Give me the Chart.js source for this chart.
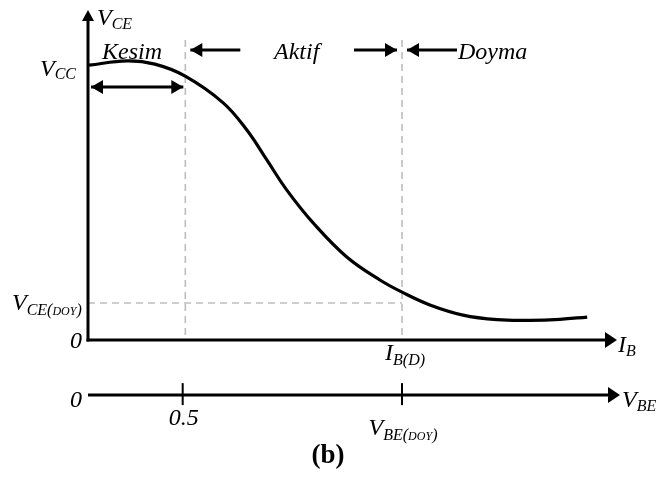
<!DOCTYPE html>
<html><head><meta charset="utf-8">
<script src="https://cdn.jsdelivr.net/npm/chart.js@4"></script>
<style>html,body{margin:0;padding:0;background:#fff}canvas{display:block}</style>
</head><body>
<canvas id="c" width="656" height="480"></canvas>
<script>
// ---- data (schematic units: I_B axis 0..10, V_CE axis 0..10) ----
const ibValues  = [0.02, 0.74, 1.27, 1.84, 2.57, 3.02, 3.40, 3.78, 4.28, 4.92, 5.55, 5.97, 6.50, 7.13, 7.78, 8.40, 8.97, 9.49];
const vceValues = [8.38, 8.51, 8.41, 8.05, 7.23, 6.40, 5.49, 4.57, 3.57, 2.53, 1.83, 1.46, 1.07, 0.76, 0.62, 0.60, 0.63, 0.70];
const regionLabels = ['Kesim', 'Aktif', 'Doyma'];
const boundaryValues = [1.85, 5.97];        // cut-off / saturation borders on I_B axis
const vbeTickValues = [1.80, 5.97];
const vbeTickLabels = [['0.5', ''], ['V', 'BE(DOY)']];
const ibTickLabel = ['I', 'B(D)'];
const yVcc = 8.38, yVceSat = 1.13;
const xMax = 10, yMax = 10;
const vbeAxisValue = -1.68;   // second (V_BE) axis level, below I_B axis

const SERIF = '"Liberation Serif", "DejaVu Serif", serif';

function drawParts(ctx, parts, x, y, align) {
  let w = 0;
  parts.forEach(p => { ctx.font = 'italic ' + p[1] + 'px ' + SERIF; w += ctx.measureText(p[0]).width; });
  let cx = align === 'center' ? x - w / 2 : (align === 'right' ? x - w : x);
  ctx.textAlign = 'left'; ctx.textBaseline = 'alphabetic'; ctx.fillStyle = '#000';
  parts.forEach(p => {
    ctx.font = 'italic ' + p[1] + 'px ' + SERIF;
    ctx.fillText(p[0], cx, y + p[2]);
    cx += ctx.measureText(p[0]).width;
  });
}
function subParts(main, sub) {
  const out = [[main, 24, 0]];
  const m = sub.match(/^(.*\()(DOY)(\))$/);
  if (m) { out.push([m[1], 16, 5], [m[2], 12, 5], [m[3], 16, 5]); }
  else if (sub) out.push([sub, 16, 5]);
  return out;
}
function arrowHead(ctx, x, y, dir, len, half) {
  ctx.beginPath();
  if (dir === 'right') { ctx.moveTo(x, y); ctx.lineTo(x - len, y - half); ctx.lineTo(x - len, y + half); }
  if (dir === 'left')  { ctx.moveTo(x, y); ctx.lineTo(x + len, y - half); ctx.lineTo(x + len, y + half); }
  if (dir === 'up')    { ctx.moveTo(x, y); ctx.lineTo(x - half, y + len); ctx.lineTo(x + half, y + len); }
  ctx.closePath(); ctx.fill();
}
function hArrow(ctx, x1, x2, y, headAt) {
  ctx.beginPath(); ctx.moveTo(x1, y); ctx.lineTo(x2, y); ctx.stroke();
  if (headAt === 'left' || headAt === 'both') arrowHead(ctx, Math.min(x1, x2), y, 'left', 12, 7);
  if (headAt === 'right' || headAt === 'both') arrowHead(ctx, Math.max(x1, x2), y, 'right', 12, 7);
}

const diagram = {
  id: 'diagram',
  beforeDatasetsDraw(chart) {
    const ctx = chart.ctx, xs = chart.scales.x, ys = chart.scales.y;
    ctx.save();
    ctx.strokeStyle = '#bdbdbd'; ctx.lineWidth = 1.6; ctx.setLineDash([7, 5]);
    boundaryValues.forEach(v => {
      const px = xs.getPixelForValue(v);
      ctx.beginPath(); ctx.moveTo(px, ys.getPixelForValue(9.15)); ctx.lineTo(px, ys.getPixelForValue(0)); ctx.stroke();
    });
    const py = ys.getPixelForValue(yVceSat);
    ctx.beginPath(); ctx.moveTo(xs.getPixelForValue(0), py); ctx.lineTo(xs.getPixelForValue(boundaryValues[1]), py); ctx.stroke();
    ctx.restore();
  },
  afterDatasetsDraw(chart) {
    const ctx = chart.ctx, xs = chart.scales.x, ys = chart.scales.y;
    const x0 = xs.getPixelForValue(0), y0 = ys.getPixelForValue(0);
    const xEnd = xs.getPixelForValue(xMax), yTop = ys.getPixelForValue(yMax);
    const yV = ys.getPixelForValue(vbeAxisValue);
    ctx.save();
    ctx.strokeStyle = '#000'; ctx.fillStyle = '#000'; ctx.lineWidth = 3; ctx.lineCap = 'butt';
    ctx.beginPath(); ctx.moveTo(x0, y0 + 1.5); ctx.lineTo(x0, yTop + 8); ctx.stroke();
    arrowHead(ctx, x0, yTop - 2, 'up', 11, 6);
    ctx.beginPath(); ctx.moveTo(x0 - 1.5, y0); ctx.lineTo(xEnd - 6, y0); ctx.stroke();
    arrowHead(ctx, xEnd + 3, y0, 'right', 12, 8);
    ctx.beginPath(); ctx.moveTo(x0, yV); ctx.lineTo(xEnd - 2, yV); ctx.stroke();
    arrowHead(ctx, xEnd + 6, yV, 'right', 12, 8);
    ctx.lineWidth = 2;
    vbeTickValues.forEach(v => {
      const px = xs.getPixelForValue(v);
      ctx.beginPath(); ctx.moveTo(px, yV - 12); ctx.lineTo(px, yV + 10); ctx.stroke();
    });
    ctx.lineWidth = 3;
    const yArr = ys.getPixelForValue(8.84);
    const bx1 = xs.getPixelForValue(boundaryValues[0]), bx2 = xs.getPixelForValue(boundaryValues[1]);
    hArrow(ctx, bx1 + 5, bx1 + 55, yArr, 'left');
    hArrow(ctx, bx2 - 48, bx2 - 5, yArr, 'right');
    hArrow(ctx, bx2 + 5, bx2 + 55, yArr, 'left');
    const yDbl = ys.getPixelForValue(7.71);
    hArrow(ctx, x0 + 3, bx1 - 2, yDbl, 'both');

    drawParts(ctx, [['V', 24, 0], ['CE', 16, 4]], x0 + 9, yTop + 13, 'left');
    drawParts(ctx, [['V', 24, 0], ['CC', 16, 3]], x0 - 48, ys.getPixelForValue(yVcc) + 11, 'left');
    drawParts(ctx, subParts('V', 'CE(DOY)'), 12, ys.getPixelForValue(yVceSat) + 7, 'left');
    drawParts(ctx, [['0', 24, 0]], x0 - 6, y0 + 8, 'right');
    drawParts(ctx, [['0', 24, 0]], x0 - 6, yV + 12, 'right');
    const yReg = ys.getPixelForValue(8.84) + 9;
    drawParts(ctx, [[regionLabels[0], 24, 0]], x0 + 14, yReg, 'left');
    drawParts(ctx, [[regionLabels[1], 24, 0]], (bx1 + bx2) / 2 + 3, yReg, 'center');
    drawParts(ctx, [[regionLabels[2], 24, 0]], bx2 + 56, yReg, 'left');
    drawParts(ctx, [[ibTickLabel[0], 24, 0], [ibTickLabel[1], 16, 5]], bx2 + 3, y0 + 20, 'center');
    drawParts(ctx, [['I', 24, 0], ['B', 16, 4]], xEnd + 4, y0 + 12, 'left');
    drawParts(ctx, [['V', 24, 0], ['BE', 16, 4]], xEnd + 8, yV + 12, 'left');
    vbeTickValues.forEach((v, i) => {
      const lab = vbeTickLabels[i];
      drawParts(ctx, subParts(lab[0], lab[1]), xs.getPixelForValue(v) + 1, yV + 30 + (lab[1] ? 10 : 0), 'center');
    });
    ctx.font = 'bold 27px ' + SERIF; ctx.textAlign = 'center'; ctx.fillStyle = '#000';
    ctx.fillText('(b)', 328, 463);
    ctx.restore();
  }
};

new Chart(document.getElementById('c'), {
  type: 'line',
  data: {
    datasets: [{
      data: ibValues.map((v, i) => ({ x: v, y: vceValues[i] })),
      borderColor: '#000', borderWidth: 3.2, pointRadius: 0,
      tension: 0.4, fill: false
    }]
  },
  options: {
    responsive: false, animation: false,
    layout: { padding: { left: 88, right: 42, top: 12, bottom: 140 } },
    plugins: { legend: { display: false }, tooltip: { enabled: false } },
    scales: {
      x: { type: 'linear', min: 0, max: xMax, display: false },
      y: { type: 'linear', min: 0, max: yMax, display: false }
    }
  },
  plugins: [diagram]
});
</script>
</body></html>
